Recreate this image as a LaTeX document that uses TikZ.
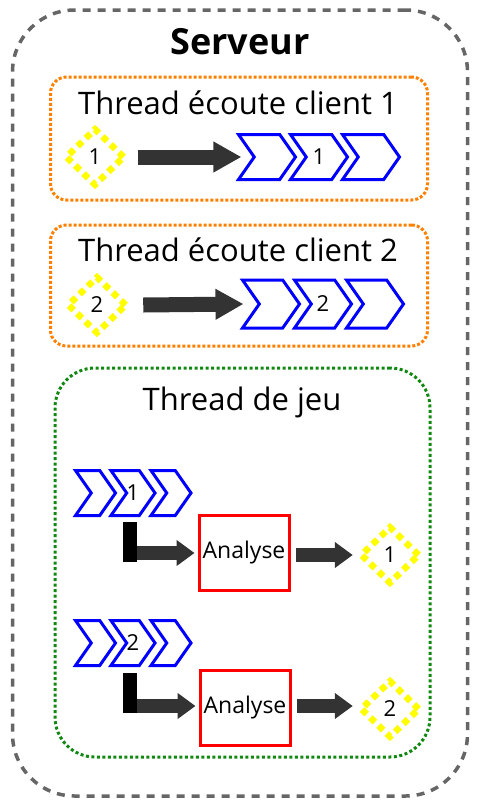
\documentclass[tikz,border=0pt]{standalone}
\usepackage{fontspec}
\setmainfont{Open Sans}
\usetikzlibrary{arrows.meta,shapes.geometric,shapes.symbols}

\definecolor{srvgray}{HTML}{666666}
\definecolor{thorange}{HTML}{FF8000}
\definecolor{jeugreen}{HTML}{118811}
\definecolor{arrowgray}{HTML}{333333}
\definecolor{msgyellow}{HTML}{FFFF00}

\tikzset{
	srvbox/.style={draw=srvgray, line width=3.5pt, dash pattern=on 8pt off 7pt, rounded corners=62pt, inner sep=0pt},
	thbox/.style={draw=thorange, line width=3pt, dash pattern=on 3pt off 2pt, rounded corners=16pt, inner sep=0pt},
	jeubox/.style={draw=jeugreen, line width=3pt, dash pattern=on 3pt off 2.5pt, rounded corners=40pt, inner sep=0pt},
	msg/.style={diamond, draw=msgyellow, line width=6.5pt, dash pattern=on 6.5pt off 5pt, inner sep=0pt, minimum width=60pt, minimum height=58pt, font=\fontsize{22}{24}\selectfont},
	queue/.style={signal, signal from=west, signal to=east, signal pointer angle=110, draw=blue, line width=3pt, inner sep=0pt, minimum width=57pt, minimum height=45pt, font=\fontsize{22}{24}\selectfont},
	smallqueue/.style={queue, minimum width=40pt, minimum height=45pt},
	analyse/.style={draw=red, line width=3pt, inner sep=0pt, minimum width=90pt, minimum height=75pt, font=\fontsize{23}{25}\selectfont},
	bigarrow/.style={draw=arrowgray, line width=15pt, -{Triangle[length=28pt,width=29pt]}},
	smallarrow/.style={draw=arrowgray, line width=14pt, -{Triangle[length=18pt,width=25pt]}},
	bar/.style={fill=black, inner sep=0pt, minimum width=14pt, minimum height=40pt},
	title/.style={font=\fontsize{31}{33}\selectfont}
}

\begin{document}
\begin{tikzpicture}[x=1pt,y=-1pt]
	\useasboundingbox (0,0) rectangle (483,807);

	% serveur
	\node[srvbox, minimum width=455pt, minimum height=786pt] (srv) at (240,403) {};
	\node[font=\bfseries\fontsize{36}{38}\selectfont] (srvt) at (240,42) {Serveur};

	% thread client 1
	\node[thbox, minimum width=377pt, minimum height=123pt] (th1) at (239,138.5) {};
	\node[title] (th1t) at (238,103) {Thread écoute client 1};
	\node[msg] (d1) at (95,157) {1};
	\node[queue] (q1a) at (267,157) {};
	\node[queue] (q1b) at (319,157) {1};
	\node[queue] (q1c) at (371,157) {};
	\draw[bigarrow] ([xshift=10pt]d1.east) -- ([xshift=-11pt]q1a.west);

	% thread client 2
	\node[thbox, minimum width=377pt, minimum height=121pt] (th2) at (239,285.5) {};
	\node[title] (th2t) at (238,250) {Thread écoute client 2};
	\node[msg] (d2) at (97,305) {2};
	\node[queue, minimum height=48pt] (q2a) at (271,304) {};
	\node[queue, minimum height=48pt] (q2b) at (323,304) {2};
	\node[queue, minimum height=48pt] (q2c) at (375,304) {};
	\draw[bigarrow] ([xshift=13pt]d2.east) -- ([xshift=-14pt]q2a.west);

	% thread de jeu
	\node[jeubox, minimum width=375pt, minimum height=389pt] (jeu) at (242.5,562.5) {};
	\node[title] (jeut) at (242,402) {Thread de jeu};

	\node[smallqueue] (q3a) at (95.5,493) {};
	\node[smallqueue] (q3b) at (133,493) {1};
	\node[smallqueue] (q3c) at (171,493) {};
	\node[bar] (bar1) at (130,542) {};
	\node[analyse] (an1) at (244,553) {Analyse};
	\node[msg] (r1) at (390,555) {1};
	\draw[smallarrow] (bar1.east |- an1.west) -- ([xshift=-3pt]an1.west);
	\draw[smallarrow] ([xshift=5pt]an1.east |- r1.west) -- ([xshift=-4pt]r1.west);

	\node[smallqueue] (q4a) at (95.5,643) {};
	\node[smallqueue] (q4b) at (133,643) {2};
	\node[smallqueue] (q4c) at (171,643) {};
	\node[bar] (bar2) at (130,693) {};
	\node[analyse] (an2) at (245,708) {Analyse};
	\node[msg] (r2) at (390,709) {2};
	\draw[smallarrow] (bar2.east |- 0,706) -- ([xshift=-3pt]an2.west |- 0,706);
	\draw[smallarrow] ([xshift=5pt]an2.east |- 0,706) -- ([xshift=-4pt]r2.west |- 0,706);

\end{tikzpicture}
\end{document}
